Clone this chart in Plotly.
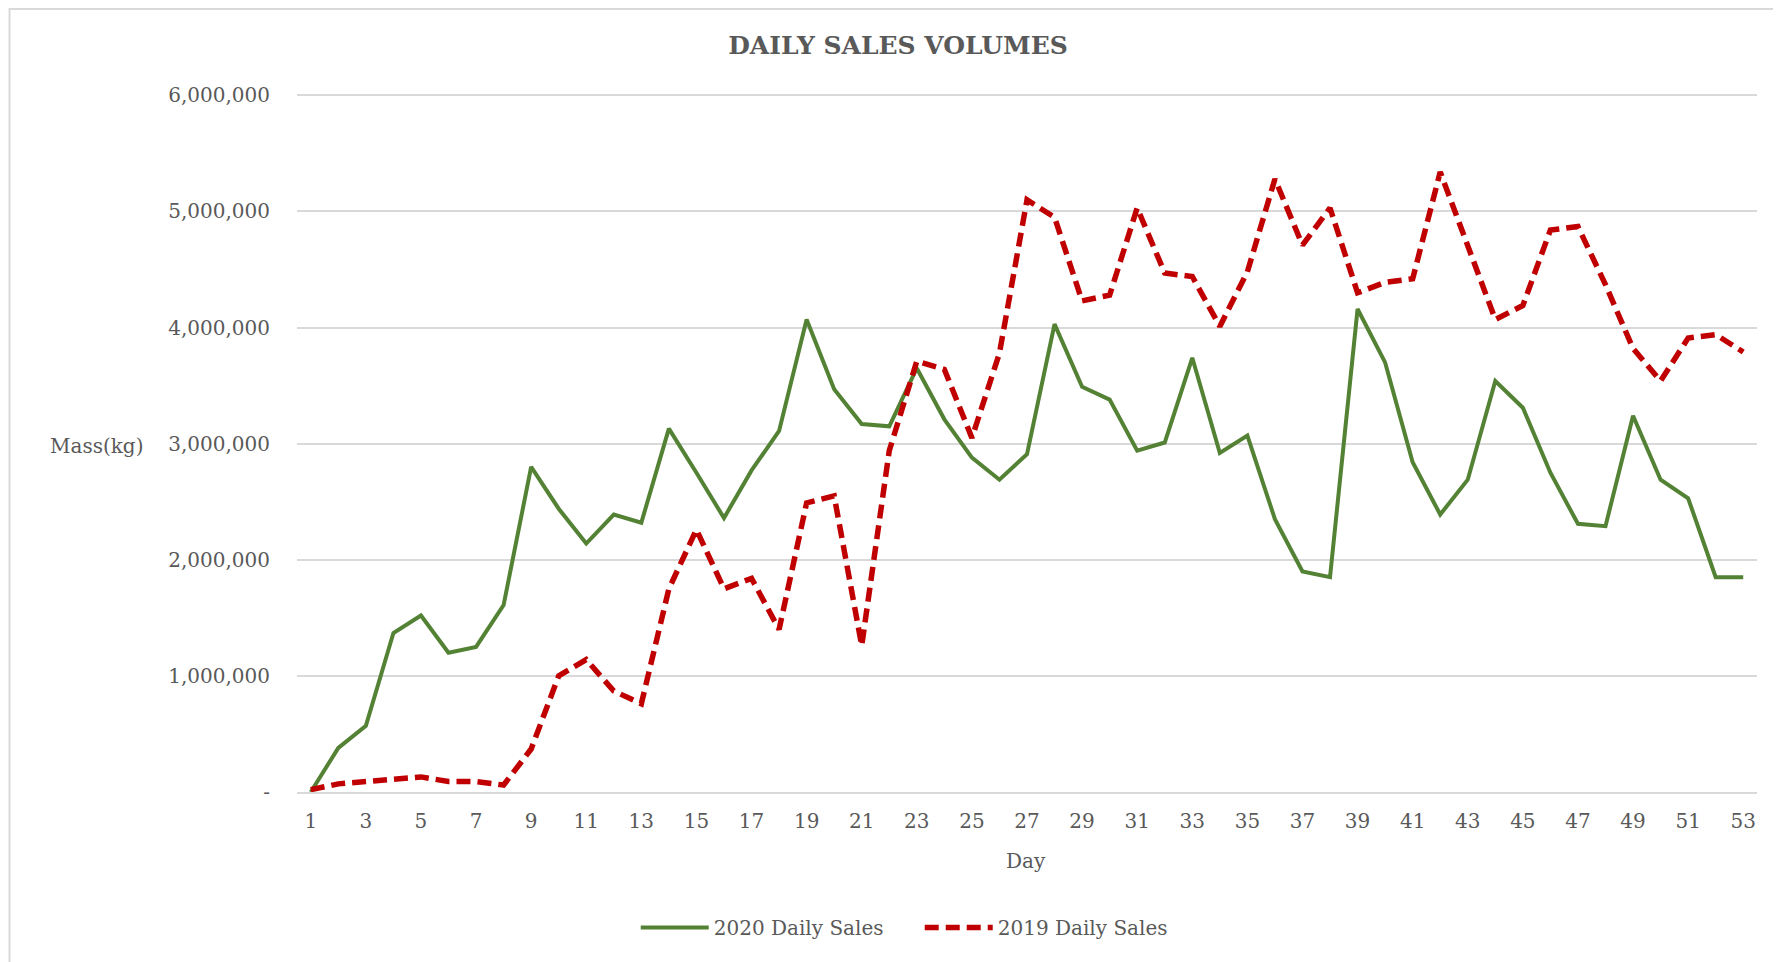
import plotly.graph_objects as go

# day numbers
days = list(range(1, 54))

# daily sales mass (kg)
sales_2020 = [
    0, 380000, 570000, 1370000, 1520000, 1200000, 1250000, 1610000, 2800000, 2440000,
    2140000, 2390000, 2320000, 3130000, 2750000, 2360000, 2770000, 3110000, 4070000, 3470000,
    3170000, 3150000, 3650000, 3210000, 2880000, 2690000, 2910000, 4030000, 3490000, 3380000,
    2940000, 3010000, 3740000, 2920000, 3070000, 2350000, 1900000, 1850000, 4160000, 3700000,
    2840000, 2390000, 2690000, 3540000, 3310000, 2750000, 2310000, 2290000, 3240000, 2690000,
    2530000, 1850000, 1850000,
]
sales_2019 = [
    20000, 70000, 90000, 110000, 130000, 90000, 90000, 60000, 370000, 1000000,
    1140000, 870000, 760000, 1750000, 2260000, 1750000, 1840000, 1400000, 2490000, 2550000,
    1260000, 2940000, 3710000, 3640000, 3050000, 3780000, 5100000, 4950000, 4230000, 4280000,
    5030000, 4470000, 4440000, 4010000, 4480000, 5280000, 4710000, 5030000, 4300000, 4390000,
    4420000, 5340000, 4710000, 4070000, 4190000, 4840000, 4870000, 4370000, 3820000, 3540000,
    3910000, 3940000, 3790000,
]

# axis ticks
y_ticks = [0, 1000000, 2000000, 3000000, 4000000, 5000000, 6000000]
y_tick_text = ["-", "1,000,000", "2,000,000", "3,000,000", "4,000,000", "5,000,000", "6,000,000"]
x_ticks = days[::2]

GREY = "#595959"
GRID = "#D9D9D9"
FONT = "DejaVu Serif"

fig = go.Figure()
fig.add_trace(go.Scatter(
    x=days, y=sales_2020, mode="lines", name="2020 Daily Sales",
    line=dict(color="#548235", width=4),
))
fig.add_trace(go.Scatter(
    x=days, y=sales_2019, mode="lines", name="2019 Daily Sales",
    line=dict(color="#C00000", width=5.5, dash="14px,7px"),
))

# page body adds an 8px offset, so the figure is 8px smaller each way
fig.update_layout(
    width=1773, height=954,
    margin=dict(l=289, r=24, t=86, b=170),
    paper_bgcolor="white", plot_bgcolor="white",
    font=dict(family=FONT, size=20, color=GREY),
    title=dict(
        text="<b>DAILY SALES VOLUMES</b>", x=0.502, y=1 - 37 / 954,
        xanchor="center", yanchor="middle",
        font=dict(family=FONT, size=25, color=GREY),
    ),
    showlegend=True,
    legend=dict(
        orientation="h", x=0.232, y=-0.194, xanchor="left", yanchor="middle",
        font=dict(size=20, color=GREY), itemwidth=68,
        entrywidth=201, entrywidthmode="pixels", bgcolor="rgba(0,0,0,0)",
    ),
    xaxis=dict(
        range=[0.5, 53.5], tickvals=x_ticks, showgrid=False, zeroline=False,
        showline=True, linecolor=GRID, linewidth=2, ticks="", ticklabelstandoff=10,
        tickfont=dict(size=20, color=GREY),
    ),
    yaxis=dict(
        range=[0, 6012000], tickvals=y_ticks, ticktext=y_tick_text,
        showgrid=True, gridcolor=GRID, gridwidth=2, zeroline=False, showline=False,
        ticks="", ticklabelstandoff=26, tickfont=dict(size=20, color=GREY),
    ),
    annotations=[
        dict(text="Mass(kg)", xref="paper", yref="paper", x=-0.137, y=0.495,
             showarrow=False, xanchor="center", yanchor="middle",
             font=dict(size=20, color=GREY)),
        dict(text="Day", xref="paper", yref="paper", x=0.4993, y=-0.099,
             showarrow=False, xanchor="center", yanchor="middle",
             font=dict(size=20, color=GREY)),
    ],
    shapes=[
        dict(type="rect", xref="paper", yref="paper",
             x0=-0.1969, x1=1.03, y0=-0.3, y1=1.1218,
             line=dict(color=GRID, width=2), fillcolor="rgba(0,0,0,0)", layer="below"),
    ],
)

fig.write_html("out.html")
